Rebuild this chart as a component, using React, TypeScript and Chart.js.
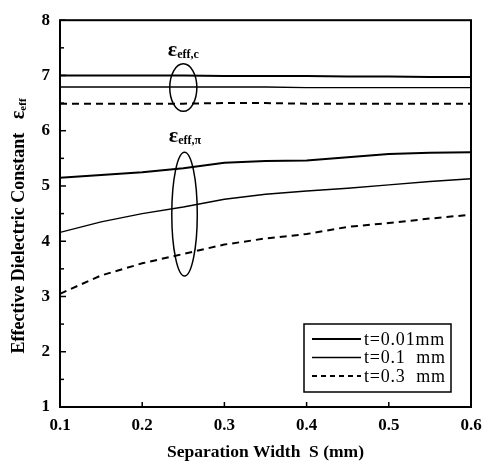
import React, { useEffect, useRef } from "react";
import { Chart, registerables } from "chart.js";
Chart.register(...registerables);

const sValues = [0.1, 0.15, 0.2, 0.25, 0.3, 0.35, 0.4, 0.45, 0.5, 0.55, 0.6];
const cModeT001 = [7.0, 7.0, 7.0, 7.0, 6.99, 6.99, 6.99, 6.98, 6.98, 6.97, 6.97];
const cModeT01 = [6.79, 6.79, 6.79, 6.79, 6.79, 6.79, 6.78, 6.78, 6.78, 6.78, 6.78];
const cModeT03 = [6.49, 6.49, 6.49, 6.49, 6.5, 6.5, 6.49, 6.49, 6.49, 6.49, 6.49];
const piModeT001 = [5.15, 5.2, 5.25, 5.32, 5.42, 5.45, 5.46, 5.52, 5.58, 5.6, 5.61];
const piModeT01 = [4.16, 4.35, 4.5, 4.62, 4.76, 4.85, 4.91, 4.96, 5.02, 5.08, 5.13];
const piModeT03 = [3.05, 3.38, 3.6, 3.77, 3.94, 4.05, 4.13, 4.26, 4.33, 4.41, 4.48];
const legendLabels = ["t=0.01mm", "t=0.1  mm", "t=0.3  mm"];
const xTicks = [0.1, 0.2, 0.3, 0.4, 0.5, 0.6];
const yTicks = [1, 2, 3, 4, 5, 6, 7, 8];
// annotation ellipses in data units: [cx, cy, rx, ry]
const ellipseC = [0.25, 6.78, 0.0165, 0.43];
const ellipsePi = [0.2515, 4.49, 0.0155, 1.12];

const FONT = "'Liberation Serif', 'DejaVu Serif', serif";

const styles = [
  { width: 2, dash: [] as number[] },
  { width: 1.4, dash: [] as number[] },
  { width: 2, dash: [7, 5] },
];

function mk(data: number[], i: number) {
  return {
    data: data.map((y, k) => ({ x: sValues[k], y })),
    borderColor: "#000",
    borderWidth: styles[i].width,
    borderDash: styles[i].dash,
    pointRadius: 0,
    fill: false,
    tension: 0,
  };
}

const overlay = {
  id: "overlay",
  afterDraw(chart: any) {
    const ctx = chart.ctx;
    const { left, right, top, bottom } = chart.chartArea;
    const xs = chart.scales.x;
    const ys = chart.scales.y;
    ctx.save();
    ctx.strokeStyle = "#000";
    ctx.fillStyle = "#000";
    // frame
    ctx.lineWidth = 2;
    ctx.strokeRect(left, top, right - left, bottom - top);
    // inward ticks
    ctx.lineWidth = 1.5;
    for (let v = 1; v <= 8.001; v += 0.5) {
      const p = ys.getPixelForValue(v);
      ctx.beginPath();
      ctx.moveTo(left, p);
      ctx.lineTo(left + (Number.isInteger(v) ? 6 : 4), p);
      ctx.stroke();
    }
    for (const v of xTicks) {
      const p = xs.getPixelForValue(v);
      ctx.beginPath();
      ctx.moveTo(p, bottom);
      ctx.lineTo(p, bottom - 5);
      ctx.stroke();
    }
    // ellipses
    ctx.lineWidth = 1.5;
    for (const e of [ellipseC, ellipsePi]) {
      const cx = xs.getPixelForValue(e[0]);
      const cy = ys.getPixelForValue(e[1]);
      const rx = Math.abs(xs.getPixelForValue(e[0] + e[2]) - cx);
      const ry = Math.abs(ys.getPixelForValue(e[1] + e[3]) - cy);
      ctx.beginPath();
      ctx.ellipse(cx, cy, rx, ry, 0, 0, Math.PI * 2);
      ctx.stroke();
    }
    // labels
    const drawEps = (x: number, y: number, sub: string) => {
      ctx.textBaseline = "alphabetic";
      ctx.textAlign = "left";
      ctx.font = `bold 22px ${FONT}`;
      const w1 = ctx.measureText("ε").width;
      ctx.font = `bold 12px ${FONT}`;
      const w2 = ctx.measureText(sub).width;
      const x0 = x - (w1 + w2) / 2;
      ctx.font = `bold 22px ${FONT}`;
      ctx.fillText("ε", x0, y);
      ctx.font = `bold 12px ${FONT}`;
      ctx.fillText(sub, x0 + w1, y + 2);
    };
    drawEps(xs.getPixelForValue(0.25), ys.getPixelForValue(7.35), "eff,c");
    drawEps(xs.getPixelForValue(0.252), ys.getPixelForValue(5.8), "eff,π");
    // legend
    const lx = 304, ly = 324, lw = 147, lh = 68;
    ctx.lineWidth = 1.5;
    ctx.strokeRect(lx, ly, lw, lh);
    ctx.font = `18px ${FONT}`;
    (ctx as any).letterSpacing = "0.8px";
    ctx.textBaseline = "middle";
    ctx.textAlign = "left";
    legendLabels.forEach((lab, i) => {
      const yy = ly + 15 + i * 18.5;
      ctx.lineWidth = styles[i].width;
      ctx.setLineDash(styles[i].dash.length ? [5, 4] : []);
      ctx.beginPath();
      ctx.moveTo(lx + 8, yy);
      ctx.lineTo(lx + 57, yy);
      ctx.stroke();
      ctx.setLineDash([]);
      ctx.fillText(lab, lx + 60, yy + 1);
    });
    (ctx as any).letterSpacing = "0px";
    // axis titles
    ctx.font = `bold 17.5px ${FONT}`;
    ctx.textAlign = "center";
    ctx.textBaseline = "middle";
    ctx.fillText("Separation Width  S (mm)", (left + right) / 2, 452);
    ctx.save();
    ctx.translate(19, 226);
    ctx.rotate(-Math.PI / 2);
    ctx.font = `bold 18px ${FONT}`;
    const main = "Effective Dielectric Constant   ";
    const wMain = ctx.measureText(main).width;
    ctx.font = `bold 20px ${FONT}`;
    const wE = ctx.measureText("ε").width;
    ctx.font = `bold 11px ${FONT}`;
    const wS = ctx.measureText("eff").width;
    const total = wMain + wE + wS;
    let x0 = -total / 2;
    ctx.textAlign = "left";
    ctx.font = `bold 18px ${FONT}`;
    ctx.fillText(main, x0, 0);
    x0 += wMain;
    ctx.font = `bold 20px ${FONT}`;
    ctx.fillText("ε", x0, 0);
    x0 += wE;
    ctx.font = `bold 11px ${FONT}`;
    ctx.fillText("eff", x0, 4);
    ctx.restore();
    ctx.restore();
  },
};

export default function App() {
  const ref = useRef<HTMLCanvasElement>(null);
  useEffect(() => {
    document.body.style.margin = "0";
    const chart = new Chart(ref.current!, {
      type: "line",
      data: {
        datasets: [
          mk(cModeT001, 0),
          mk(cModeT01, 1),
          mk(cModeT03, 2),
          mk(piModeT001, 0),
          mk(piModeT01, 1),
          mk(piModeT03, 2),
        ],
      },
      options: {
        animation: false,
        responsive: false,
        devicePixelRatio: 1,
        layout: { padding: { top: 12, right: 20, left: 0, bottom: 0 } },
        plugins: { legend: { display: false }, tooltip: { enabled: false } },
        scales: {
          x: {
            type: "linear",
            min: 0.1,
            max: 0.6,
            afterFit: (s: any) => { s.height = 61; },
            afterBuildTicks: (s: any) => { s.ticks = xTicks.map((v) => ({ value: v })); },
            grid: { display: false, drawTicks: false },
            border: { display: false },
            ticks: {
              padding: 8,
              color: "#000",
              font: { family: FONT, size: 17, weight: "bold" },
              callback: (v: any) => Number(v).toFixed(1),
            },
          },
          y: {
            type: "linear",
            min: 1,
            max: 8,
            afterFit: (s: any) => { s.width = 60; },
            afterBuildTicks: (s: any) => { s.ticks = yTicks.map((v) => ({ value: v })); },
            grid: { display: false, drawTicks: false },
            border: { display: false },
            ticks: {
              padding: 10,
              color: "#000",
              font: { family: FONT, size: 17, weight: "bold" },
            },
          },
        },
      },
      plugins: [overlay],
    } as any);
    return () => chart.destroy();
  }, []);
  return (
    <div style={{ width: 491, height: 468, background: "#fff" }}>
      <canvas ref={ref} width={491} height={468} style={{ display: "block" }} />
    </div>
  );
}
